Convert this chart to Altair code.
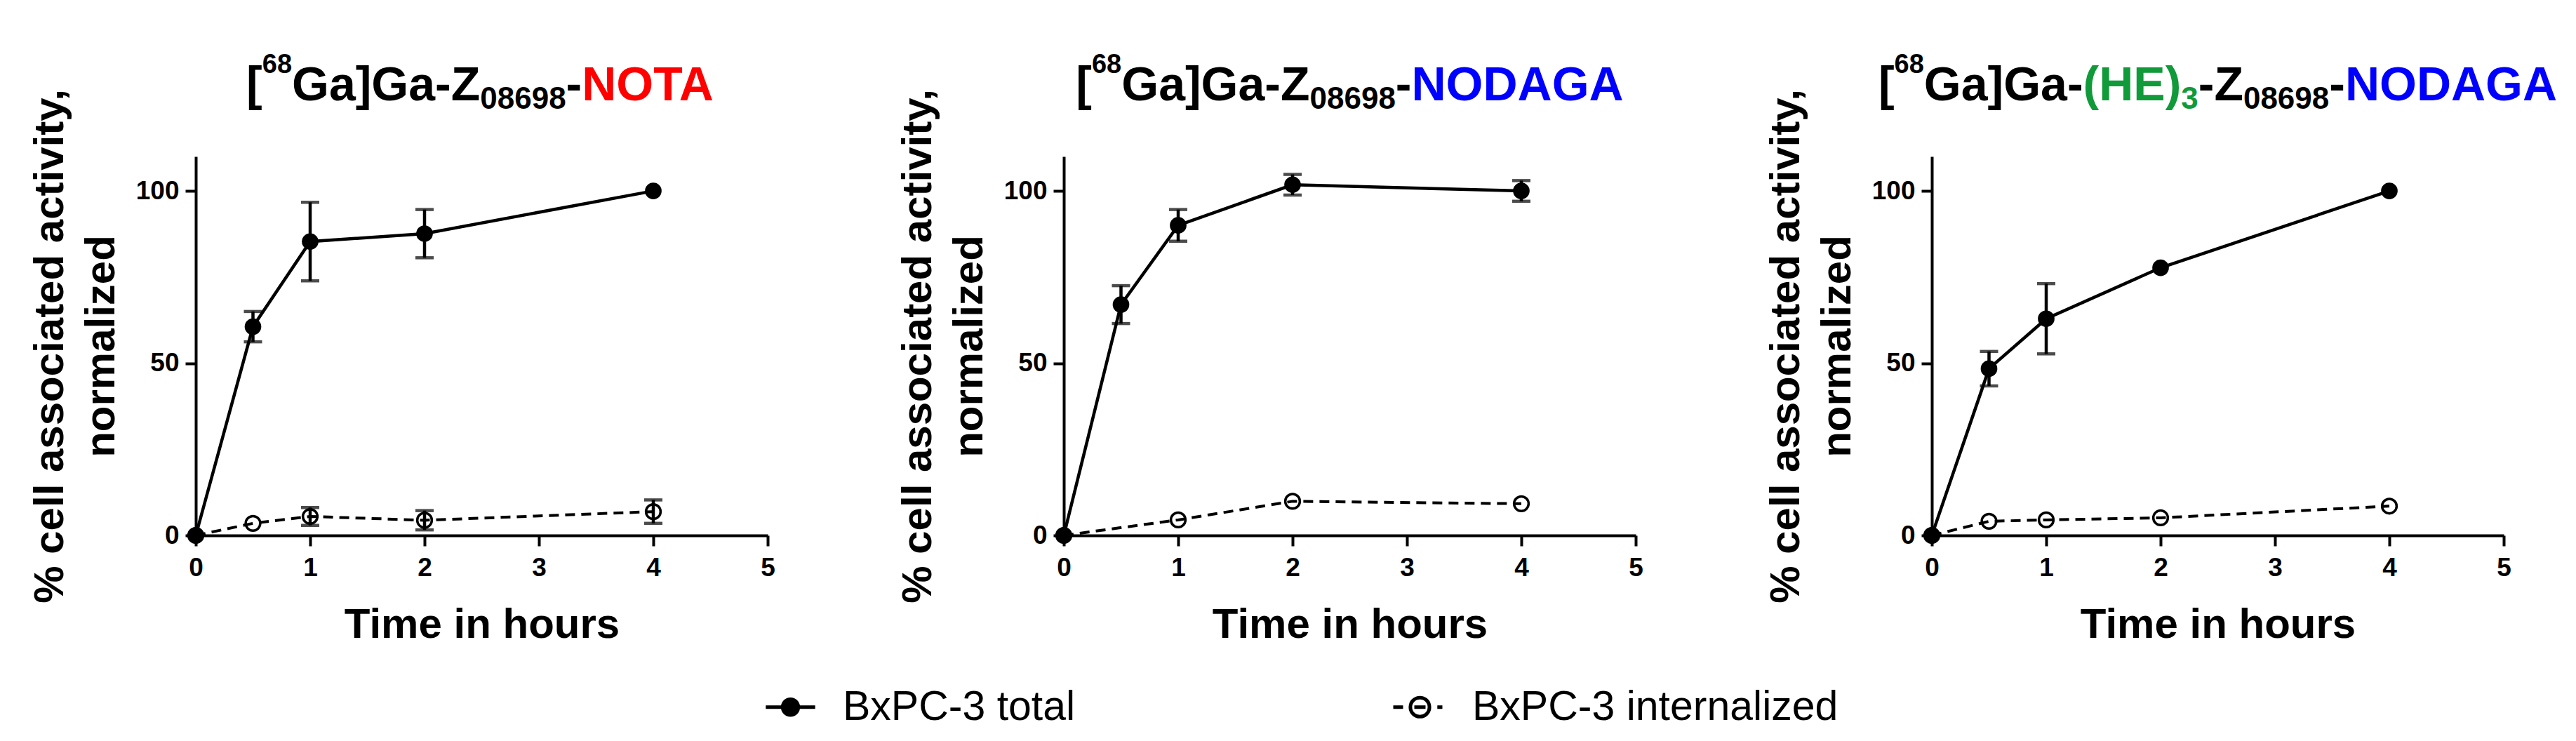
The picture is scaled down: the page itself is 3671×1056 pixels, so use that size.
import altair as alt
import pandas as pd

# ---------------- data ----------------
TIME = [0, 0.5, 1, 2, 4]
SERIES = ["BxPC-3 total", "BxPC-3 internalized"]

NOTA_TOTAL = [0, 60.6, 85.3, 87.6, 100]
NOTA_TOTAL_SD = [0, 4.4, 11.4, 7.0, 0]
NOTA_INT = [0, 3.5, 5.5, 4.4, 6.9]
NOTA_INT_SD = [0, 0, 2.6, 2.8, 3.4]

NODAGA_TOTAL = [0, 67.0, 90.0, 101.8, 100]
NODAGA_TOTAL_SD = [0, 5.5, 4.6, 3.0, 3.0]
NODAGA_INT = [0, None, 4.5, 9.9, 9.2]
NODAGA_INT_SD = [0, 0, 0, 0, 0]

HE3_TOTAL = [0, 48.4, 62.9, 77.7, 100]
HE3_TOTAL_SD = [0, 5.0, 10.2, 0, 0]
HE3_INT = [0, 4.1, 4.5, 5.1, 8.5]
HE3_INT_SD = [0, 0, 0, 0, 0]

X_TICKS = [0, 1, 2, 3, 4, 5]
Y_TICKS = [0, 50, 100]
X_TITLE = "Time in hours"
Y_TITLE = ["% cell associated activity,", "normalized"]

# title pieces: (text, kind, colour)
TITLE_1 = [("[", "main", "#000000"), ("68", "sup", "#000000"), ("Ga]Ga-Z", "main", "#000000"),
           ("08698", "sub", "#000000"), ("-", "main", "#000000"), ("NOTA", "main", "#FF0000")]
TITLE_2 = [("[", "main", "#000000"), ("68", "sup", "#000000"), ("Ga]Ga-Z", "main", "#000000"),
           ("08698", "sub", "#000000"), ("-", "main", "#000000"), ("NODAGA", "main", "#0000FF")]
TITLE_3 = [("[", "main", "#000000"), ("68", "sup", "#000000"), ("Ga]Ga-", "main", "#000000"),
           ("(HE)", "main", "#109A3A"), ("3", "sub", "#109A3A"), ("-Z", "main", "#000000"),
           ("08698", "sub", "#000000"), ("-", "main", "#000000"), ("NODAGA", "main", "#0000FF")]

# ---------------- layout / style ----------------
FONT = "Liberation Sans"
PLOT_W = 815
PLOT_H = 540
FS = {"main": 68, "sup": 38, "sub": 44}
BASE = {"main": -80, "sup": -119, "sub": -68}
CHAR_W = {"[": .333, "]": .333, "(": .333, ")": .333, "-": .333, "G": .778, "a": .556,
          "Z": .611, "N": .722, "O": .778, "T": .611, "A": .722, "D": .722, "H": .722, "E": .667}


def seg_width(s, fs):
    return sum(CHAR_W.get(c, 0.556) for c in s) * fs


def title_df(segs):
    total = sum(seg_width(t, FS[k]) for t, k, _ in segs)
    x = PLOT_W / 2 - total / 2
    rows = []
    for t, k, c in segs:
        rows.append(dict(seg=t, px=x, py=BASE[k], fs=FS[k], col=c))
        x += seg_width(t, FS[k])
    return pd.DataFrame(rows)


LEG_TOTAL = ("M-0.88,0H0.88M0.28,0A0.28,0.28,0,1,1,-0.28,0A0.28,0.28,0,1,1,0.28,0Z")
LEG_INT = ("M-0.95,0H-0.6M0.34,0A0.34,0.34,0,1,1,-0.34,0A0.34,0.34,0,1,1,0.34,0Z"
           "M-0.2,0H0.2M0.62,0H0.8")

AX = dict(grid=False, domainColor="black", domainWidth=4, tickColor="black", tickWidth=4, tickSize=15,
          labelFont=FONT, labelFontWeight="bold", labelFontSize=37, labelColor="black",
          titleFont=FONT, titleFontWeight="bold", titleFontSize=60, titleColor="black",
          labelOverlap=False)

x_axis = alt.Axis(values=X_TICKS, title=X_TITLE, format="d", labelFlush=False,
                  labelPadding=13, titlePadding=34, **AX)
y_axis = alt.Axis(values=Y_TICKS, title=Y_TITLE, labelPadding=9, titlePadding=18,
                  titleLineHeight=73, **AX)


def X(field):
    return alt.X(field, type="quantitative", scale=alt.Scale(domain=[0, 5], nice=False, zero=False), axis=x_axis)


def Y(field):
    return alt.Y(field, type="quantitative", scale=alt.Scale(domain=[0, 110], nice=False), axis=y_axis)


def panel(total, total_sd, inter, inter_sd, segs, with_legend=False):
    rows = []
    for i, t in enumerate(TIME):
        if total[i] is not None:
            rows.append(dict(series=SERIES[0], t=t, v=total[i], lo=total[i] - total_sd[i],
                             hi=total[i] + total_sd[i], sd=total_sd[i]))
        if inter[i] is not None:
            rows.append(dict(series=SERIES[1], t=t, v=inter[i], lo=inter[i] - inter_sd[i],
                             hi=inter[i] + inter_sd[i], sd=inter_sd[i]))
    df = pd.DataFrame(rows)
    base = alt.Chart(df)
    tot = base.transform_filter(alt.datum.series == SERIES[0])
    itn = base.transform_filter(alt.datum.series == SERIES[1])

    line_t = tot.mark_line(color="black", strokeWidth=4.5).encode(x=X("t"), y=Y("v"))
    line_i = itn.mark_line(color="black", strokeWidth=4, strokeDash=[14, 9]).encode(x=X("t"), y=Y("v"))
    err = base.transform_filter(alt.datum.sd > 0).mark_errorbar(
        ticks=True, size=26, thickness=4.5, color="black").encode(x=X("t"), y=Y("lo"), y2="hi")
    pts_i = itn.mark_point(filled=False, size=430, strokeWidth=3.5, color="black", opacity=1).encode(
        x=X("t"), y=Y("v"))
    pts_t = tot.mark_point(filled=True, size=560, color="black", opacity=1).encode(x=X("t"), y=Y("v"))

    ttl = alt.Chart(title_df(segs)).mark_text(align="left", baseline="alphabetic", font=FONT,
                                              fontWeight="bold").encode(
        x=alt.X("px:Q", scale=None, axis=None),
        y=alt.Y("py:Q", scale=None, axis=None),
        text="seg:N",
        size=alt.Size("fs:Q", scale=None, legend=None),
        color=alt.Color("col:N", scale=None, legend=None),
    )
    layers = [line_t, line_i, err, pts_i, pts_t, ttl]
    if with_legend:
        leg = alt.Legend(orient="none", legendX=805, legendY=742, direction="horizontal",
                         title=None, symbolSize=6400, symbolStrokeWidth=5, symbolStrokeColor="black",
                         symbolOpacity=1, labelFont=FONT, labelFontSize=59, labelColor="black",
                         labelOffset=32, columnPadding=442, padding=0, labelLimit=1000)
        dom = SERIES
        hidden = base.mark_point(opacity=0, filled=False, strokeWidth=5, size=6400).encode(
            x=X("t"), y=Y("v"),
            shape=alt.Shape("series:N", scale=alt.Scale(domain=dom, range=[LEG_TOTAL, LEG_INT]), legend=leg),
            fill=alt.Fill("series:N", scale=alt.Scale(domain=dom, range=["black", "white"]), legend=leg),
            stroke=alt.Stroke("series:N", scale=alt.Scale(domain=dom, range=["black", "black"]), legend=leg),
        )
        layers.append(hidden)
    return alt.layer(*layers).properties(width=PLOT_W, height=PLOT_H)


p1 = panel(NOTA_TOTAL, NOTA_TOTAL_SD, NOTA_INT, NOTA_INT_SD, TITLE_1)
p2 = panel(NODAGA_TOTAL, NODAGA_TOTAL_SD, NODAGA_INT, NODAGA_INT_SD, TITLE_2, with_legend=True)
p3 = panel(HE3_TOTAL, HE3_TOTAL_SD, HE3_INT, HE3_INT_SD, TITLE_3)

chart = alt.hconcat(p1, p2, p3, spacing=422, bounds="flush").properties(
    padding={"left": 33, "top": 66, "right": 0, "bottom": 0},
    background="white",
).configure_view(strokeWidth=0)

chart.save("out.html", embed_options={"renderer": "svg", "actions": False})
